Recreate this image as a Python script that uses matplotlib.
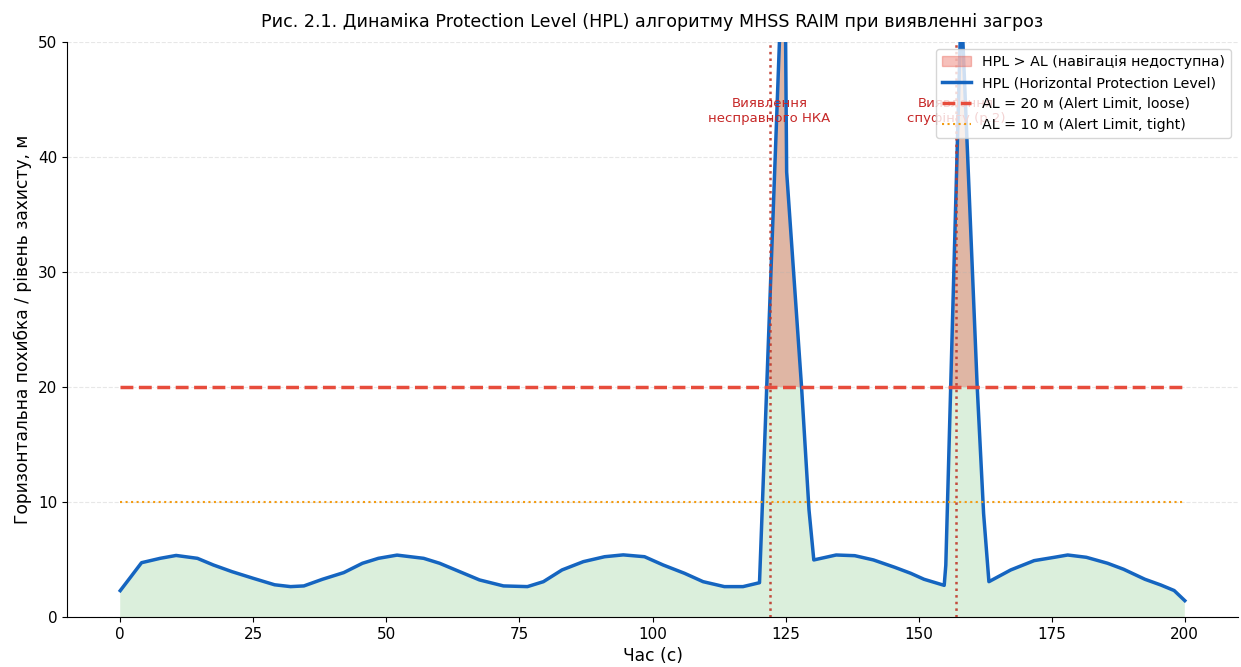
import numpy as np
import matplotlib.pyplot as plt
from matplotlib.patches import Patch
from matplotlib.lines import Line2D

# Час (с) та HPL (м)
time_s = [0, 2, 4, 7.5, 10.5, 14.5, 17.5, 21, 25, 29, 32, 34.5, 38, 42, 45.5,
          48.5, 52, 57, 60, 63, 67.5, 72, 76.5, 79.5, 83, 87, 91, 94.5, 98.5,
          102, 106, 109.5, 113.5, 117, 120.1, 124.8, 125.2, 128.0, 129.4,
          130.3, 134.5, 138, 141.5, 145.5, 148.5, 151, 154.8, 155.1, 158.0,
          161.0, 162.2, 163.2, 167.3, 171.7, 175.5, 178, 181.5, 185.5, 188.5,
          192.5, 195.5, 198, 200]
hpl_m = [2.29, 3.5, 4.72, 5.1, 5.35, 5.1, 4.52, 3.94, 3.36, 2.8, 2.64, 2.7,
         3.28, 3.86, 4.67, 5.1, 5.38, 5.1, 4.67, 4.09, 3.22, 2.7, 2.64, 3.07,
         4.09, 4.81, 5.24, 5.4, 5.24, 4.52, 3.8, 3.07, 2.64, 2.64, 2.98, 62.0,
         38.7, 20.0, 9.3, 4.96, 5.39, 5.33, 4.96, 4.32, 3.8, 3.28, 2.75, 4.5,
         53.5, 20.0, 9.0, 3.07, 4.09, 4.9, 5.19, 5.39, 5.19, 4.67, 4.15, 3.28,
         2.78, 2.3, 1.42]

al_loose = 20
al_tight = 10
detect_fault = 122
detect_spoof = 157

t = np.array(time_s)
hpl = np.array(hpl_m)

fig = plt.figure(figsize=(12.41, 6.67), dpi=100)
ax = fig.add_axes([0.054, 0.075, 0.9436, 0.862])

ax.fill_between(t, 0, hpl, color="#4caf50", alpha=0.2, linewidth=0)
ax.fill_between(t, al_loose, hpl, where=hpl > al_loose, interpolate=True,
                color="#e74c3c", alpha=0.35, linewidth=0)
ax.plot(t, hpl, color="#1565c0", lw=2.5)
ax.plot([t[0], t[-1]], [al_loose, al_loose], color="#e74c3c", lw=2.5, ls="--")
ax.plot([t[0], t[-1]], [al_tight, al_tight], color="#f39c12", lw=1.5, ls=":")

for xv in (detect_fault, detect_spoof):
    ax.axvline(xv, color="#c0392b", lw=1.8, ls=":", alpha=0.9)

ax.text(detect_fault, 44, "Виявлення\nнесправного НКА", ha="center", va="center",
        fontsize=9.5, color="#c62828")
ax.text(detect_spoof, 44, "Виявлення\nспуфінгу (р.2)", ha="center", va="center",
        fontsize=9.5, color="#c62828")

ax.set_xlim(-10, 210)
ax.set_ylim(0, 50)
ax.set_xticks([0, 25, 50, 75, 100, 125, 150, 175, 200])
ax.tick_params(labelsize=11)
ax.grid(axis="y", ls="--", alpha=0.3)
ax.spines["top"].set_visible(False)
ax.spines["right"].set_visible(False)

ax.set_title("Рис. 2.1. Динаміка Protection Level (HPL) алгоритму MHSS RAIM при виявленні загроз",
             fontsize=12.6, pad=11)
ax.set_xlabel("Час (с)", fontsize=12.3)
ax.set_ylabel("Горизонтальна похибка / рівень захисту, м", fontsize=12.3)

handles = [
    Patch(facecolor="#e74c3c", edgecolor="#e74c3c", alpha=0.35,
          label="HPL > AL (навігація недоступна)"),
    Line2D([], [], color="#1565c0", lw=2.5, label="HPL (Horizontal Protection Level)"),
    Line2D([], [], color="#e74c3c", lw=2.5, ls="--", label="AL = 20 м (Alert Limit, loose)"),
    Line2D([], [], color="#f39c12", lw=1.5, ls=":", label="AL = 10 м (Alert Limit, tight)"),
]
leg = ax.legend(handles=handles, loc="upper right", fontsize=10.3, framealpha=0.8)
leg.set_zorder(5)

plt.savefig("out.png", dpi=100)
plt.close()
